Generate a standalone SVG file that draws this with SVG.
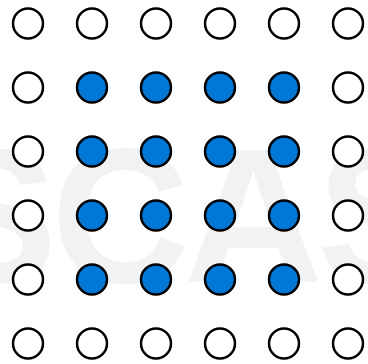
<svg xmlns="http://www.w3.org/2000/svg" width="368" height="364" viewBox="0 0 368 364">
<style>
.wm{font-family:"Liberation Sans",Arial,sans-serif;font-weight:bold;fill:#f2f2f2}
circle{stroke:#000;stroke-width:2.5}
.e{fill:#fff}
.f{fill:#0078d7}
</style>
<rect width="368" height="364" fill="#fff"/>
<text class="wm" x="184" y="282" font-size="192" text-anchor="middle" letter-spacing="-6">SCAS</text>
<g id="dots">
<g id="r1"><circle class="e" cx="28" cy="23.5" r="15"/><circle class="e" cx="92" cy="23.5" r="15"/><circle class="e" cx="156" cy="23.5" r="15"/><circle class="e" cx="220" cy="23.5" r="15"/><circle class="e" cx="284" cy="23.5" r="15"/><circle class="e" cx="348" cy="23.5" r="15"/></g>
<g id="r2"><circle class="e" cx="28" cy="87.5" r="15"/><circle class="f" cx="92" cy="87.5" r="15"/><circle class="f" cx="156" cy="87.5" r="15"/><circle class="f" cx="220" cy="87.5" r="15"/><circle class="f" cx="284" cy="87.5" r="15"/><circle class="e" cx="348" cy="87.5" r="15"/></g>
<g id="r3"><circle class="e" cx="28" cy="151.5" r="15"/><circle class="f" cx="92" cy="151.5" r="15"/><circle class="f" cx="156" cy="151.5" r="15"/><circle class="f" cx="220" cy="151.5" r="15"/><circle class="f" cx="284" cy="151.5" r="15"/><circle class="e" cx="348" cy="151.5" r="15"/></g>
<g id="r4"><circle class="e" cx="28" cy="215.5" r="15"/><circle class="f" cx="92" cy="215.5" r="15"/><circle class="f" cx="156" cy="215.5" r="15"/><circle class="f" cx="220" cy="215.5" r="15"/><circle class="f" cx="284" cy="215.5" r="15"/><circle class="e" cx="348" cy="215.5" r="15"/></g>
<g id="r5"><circle class="e" cx="28" cy="279.5" r="15"/><circle class="f" cx="92" cy="279.5" r="15"/><circle class="f" cx="156" cy="279.5" r="15"/><circle class="f" cx="220" cy="279.5" r="15"/><circle class="f" cx="284" cy="279.5" r="15"/><circle class="e" cx="348" cy="279.5" r="15"/></g>
<g id="r6"><circle class="e" cx="28" cy="343.5" r="15"/><circle class="e" cx="92" cy="343.5" r="15"/><circle class="e" cx="156" cy="343.5" r="15"/><circle class="e" cx="220" cy="343.5" r="15"/><circle class="e" cx="284" cy="343.5" r="15"/><circle class="e" cx="348" cy="343.5" r="15"/></g>
</g>
</svg>
